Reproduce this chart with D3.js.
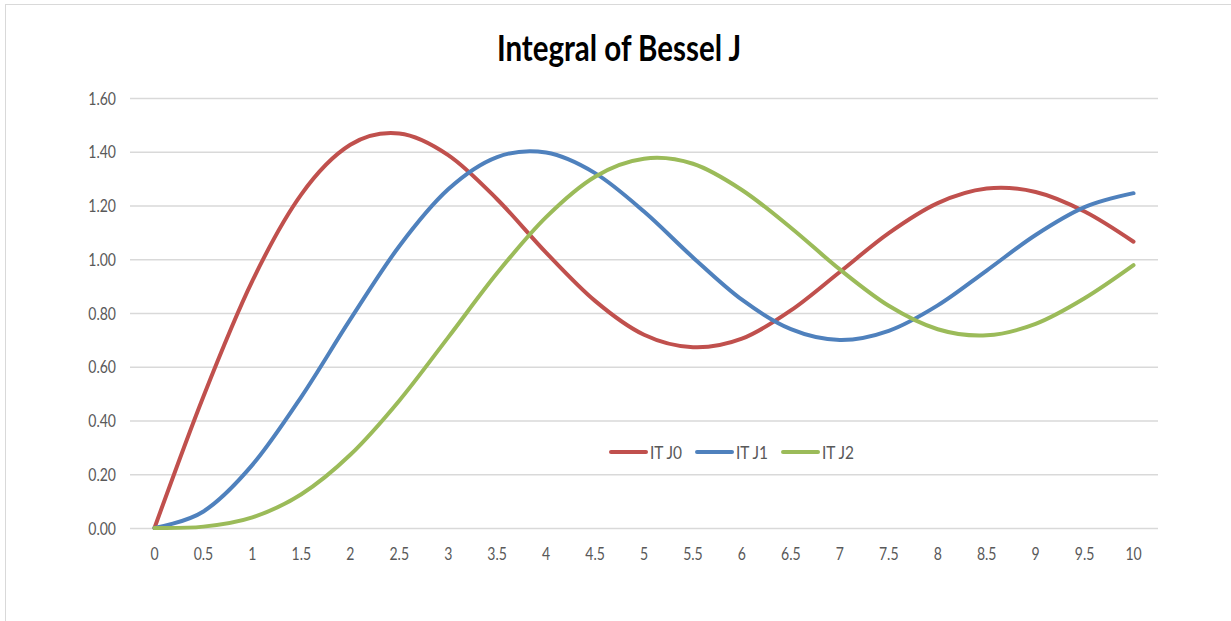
<!DOCTYPE html>
<html>
<head>
<meta charset="utf-8">
<script src="https://cdn.jsdelivr.net/npm/d3@7/dist/d3.min.js"></script>
<style>
  html, body { margin: 0; padding: 0; background: #ffffff; }
  svg { display: block; }
</style>
</head>
<body>
<svg id="chart" width="1231" height="621"></svg>
<script>
// x positions (categories) and the three running integrals of J0, J1, J2
const xLabels = ["0","0.5","1","1.5","2","2.5","3","3.5","4","4.5","5","5.5","6","6.5","7","7.5","8","8.5","9","9.5","10"];
const itJ0 = [0, 0.4897, 0.9197, 1.2414, 1.4258, 1.4680, 1.3876, 1.2233, 1.0247, 0.8450, 0.7189, 0.6725, 0.7043, 0.8096, 0.9527, 1.0972, 1.2088, 1.2630, 1.2503, 1.1775, 1.0651];
const itJ1 = [0, 0.0615, 0.2348, 0.4882, 0.7761, 1.0484, 1.2601, 1.3801, 1.3971, 1.3205, 1.1776, 1.0068, 0.8494, 0.7399, 0.6999, 0.7337, 0.8283, 0.9581, 1.0903, 1.1939, 1.2459];
const itJ2 = [0, 0.0051, 0.0396, 0.1256, 0.2724, 0.4738, 0.7094, 0.9485, 1.1567, 1.3072, 1.3741, 1.3553, 1.2577, 1.1172, 0.9621, 0.8268, 0.7396, 0.7168, 0.7597, 0.8549, 0.9781];
const seriesNames = ["IT J0", "IT J1", "IT J2"];
const seriesColors = ["#c0504d", "#4f81bd", "#9bbb59"];
const yTicks = [0, 0.2, 0.4, 0.6, 0.8, 1.0, 1.2, 1.4, 1.6];
const titleText = "Integral of Bessel J";

const series = [itJ0, itJ1, itJ2].map((vals, i) => ({
  name: seriesNames[i], color: seriesColors[i],
  points: vals.map((v, j) => ({ x: xLabels[j], y: v }))
}));

const svg = d3.select("#chart");
const plot = { left: 130, right: 1158, top: 98, bottom: 528 };
const labelFont = "Lato, 'Open Sans', 'Liberation Sans', sans-serif";

// chart-area frame
svg.append("rect")
  .attr("x", 5.5).attr("y", 4.5)
  .attr("width", 1260).attr("height", 660)
  .attr("fill", "#ffffff").attr("stroke", "#d9d9d9").attr("stroke-width", 1);

const x = d3.scalePoint().domain(xLabels).range([plot.left, plot.right]).padding(0.5);
const y = d3.scaleLinear().domain([0, 1.6]).range([plot.bottom, plot.top]);

// horizontal gridlines (the 0 line doubles as the category axis)
svg.append("g")
  .attr("transform", `translate(${plot.left},0)`)
  .call(d3.axisLeft(y).tickValues(yTicks).tickSize(-(plot.right - plot.left)).tickFormat(""))
  .call(g => g.select(".domain").remove())
  .call(g => g.selectAll(".tick line").attr("stroke", "#d9d9d9").attr("stroke-width", 1.3));

// narrow-looking text: drawn normally, then squeezed horizontally
function squeezed(parent, text, px, py, anchor, size, weight, ratio) {
  const g = parent.append("g")
    .attr("transform", `translate(${px},${py}) scale(${ratio},1)`);
  return g.append("text")
    .attr("text-anchor", anchor)
    .attr("font-family", labelFont)
    .attr("font-size", size)
    .attr("font-weight", weight)
    .text(text);
}

const tickRatio = 0.78;
const yLabelG = svg.append("g");
yTicks.forEach(v => {
  squeezed(yLabelG, d3.format(".2f")(v), 116, y(v) + 6.5, "end", 18, 400, tickRatio)
    .attr("fill", "#595959");
});

const xLabelG = svg.append("g");
xLabels.forEach(l => {
  squeezed(xLabelG, l, x(l), 559.5, "middle", 18, 400, tickRatio)
    .attr("fill", "#595959");
});

// title
squeezed(svg, titleText, 619, 61, "middle", 36, 700, 0.82).attr("fill", "#000000");

// smoothed series lines
const line = d3.line()
  .x(d => x(d.x))
  .y(d => y(d.y))
  .curve(d3.curveCardinal.tension(0));

svg.append("g").selectAll("path")
  .data(series)
  .join("path")
  .attr("d", d => line(d.points))
  .attr("fill", "none")
  .attr("stroke", d => d.color)
  .attr("stroke-width", 4)
  .attr("stroke-linecap", "round")
  .attr("stroke-linejoin", "round");

// legend
const legendRatio = 0.86;
const legend = svg.append("g");
let lx = 610;
series.forEach(s => {
  legend.append("line")
    .attr("x1", lx + 1).attr("x2", lx + 36)
    .attr("y1", 452).attr("y2", 452)
    .attr("stroke", s.color).attr("stroke-width", 4)
    .attr("stroke-linecap", "round");
  const t = squeezed(legend, s.name, lx + 40, 459, "start", 18, 400, legendRatio)
    .attr("fill", "#595959");
  const w = t.node().getComputedTextLength() * legendRatio;
  lx += 40 + w + 14;
});
</script>
</body>
</html>
